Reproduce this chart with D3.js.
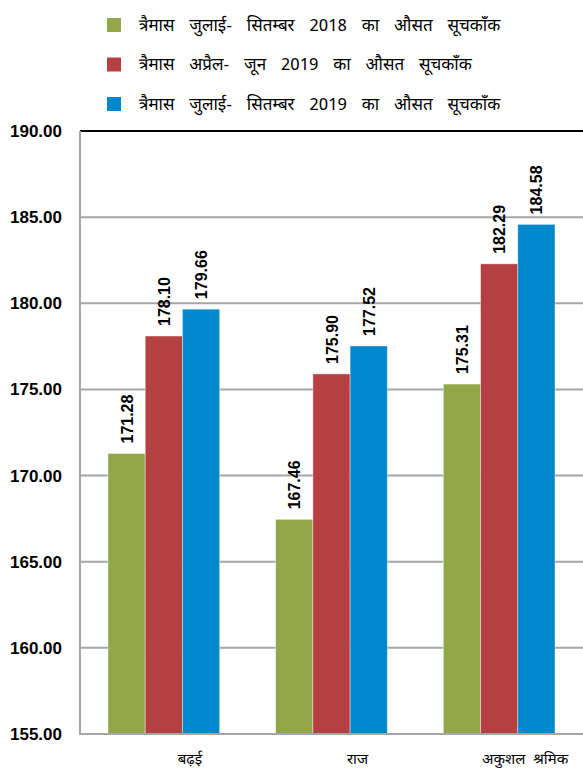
<!DOCTYPE html>
<html>
<head>
<meta charset="utf-8">
<script src="https://cdn.jsdelivr.net/npm/d3@7"></script>
<style>
  body { margin: 0; background: #fff; }
  svg { display: block; }
</style>
</head>
<body>
<div id="chart"></div>
<script>
// categories and series
var categories = ["बढ़ई", "राज", "अकुशल  श्रमिक"];
var seriesNames = [
	"त्रैमास  जुलाई-  सितम्बर  2018  का  औसत  सूचकाँक",
	"त्रैमास  अप्रैल-  जून  2019  का  औसत  सूचकाँक",
	"त्रैमास  जुलाई-  सितम्बर  2019  का  औसत  सूचकाँक"
];
var julSep2018 = [171.28, 167.46, 175.31];
var aprJun2019 = [178.10, 175.90, 182.29];
var julSep2019 = [179.66, 177.52, 184.58];
var yTicks = [155, 160, 165, 170, 175, 180, 185, 190];
var colors = ["#94a64a", "#b44042", "#0088cc"];

var series = [julSep2018, aprJun2019, julSep2019];

var width = 583,
	height = 771,
	plotLeft = 80,
	plotRight = 583,
	plotTop = 131,
	plotBottom = 734;

var svg = d3.select("#chart")
	.append("svg")
	.attr("width", width)
	.attr("height", height);

var devFont = "'Noto Sans Devanagari', 'Lohit Devanagari', 'Noto Sans', sans-serif";
var numFont = "'Liberation Sans', Arial, sans-serif";

// scales
var x0 = d3.scaleBand()
	.domain(categories)
	.range([plotLeft, plotRight])
	.paddingInner(0.334)
	.paddingOuter(0.167);

var x1 = d3.scaleBand()
	.domain([0, 1, 2])
	.range([0, x0.bandwidth()]);

var y = d3.scaleLinear()
	.domain([155, 190])
	.range([plotBottom, plotTop]);

// gridlines
svg.selectAll(".grid")
	.data(yTicks.slice(1))
	.enter().append("line")
	.attr("class", "grid")
	.attr("x1", plotLeft)
	.attr("x2", plotRight)
	.attr("y1", function(d) { return y(d); })
	.attr("y2", function(d) { return y(d); })
	.style("stroke", function(d) { return d === 190 ? "#000" : "#a6a6a6"; })
	.style("stroke-width", 2);

// y axis labels
var yAxis = d3.axisLeft(y)
	.tickValues(yTicks)
	.tickSize(0)
	.tickPadding(18)
	.tickFormat(d3.format(".2f"));

var yg = svg.append("g")
	.attr("transform", "translate(" + plotLeft + ",0)")
	.call(yAxis);
yg.select(".domain").remove();
yg.selectAll("text")
	.style("font-family", numFont)
	.style("font-weight", "bold")
	.style("font-size", "17px")
	.style("fill", "#000");

// bars
var groups = svg.selectAll(".group")
	.data(categories)
	.enter().append("g")
	.attr("class", "group")
	.attr("transform", function(d) { return "translate(" + x0(d) + ",0)"; });

groups.selectAll("rect")
	.data(function(d, i) { return series.map(function(s, j) { return { s: j, v: s[i] }; }); })
	.enter().append("rect")
	.attr("x", function(d) { return x1(d.s); })
	.attr("width", x1.bandwidth())
	.attr("y", function(d) { return y(d.v); })
	.attr("height", function(d) { return plotBottom - y(d.v); })
	.style("fill", function(d) { return colors[d.s]; })
	.style("stroke", "rgba(255,255,255,0.5)")
	.style("stroke-width", 0.8);

// value labels
groups.selectAll(".val")
	.data(function(d, i) { return series.map(function(s, j) { return { s: j, v: s[i] }; }); })
	.enter().append("text")
	.attr("class", "val")
	.attr("transform", function(d) {
		return "translate(" + (x1(d.s) + x1.bandwidth() / 2 + 6) + "," + (y(d.v) - 10) + ") rotate(-90)";
	})
	.style("font-family", numFont)
	.style("font-weight", "bold")
	.style("font-size", "16px")
	.style("fill", "#000")
	.text(function(d) { return d.v.toFixed(2); });

// x axis labels
var xAxis = d3.axisBottom(x0).tickSize(0).tickPadding(19);
var xg = svg.append("g")
	.attr("transform", "translate(0," + plotBottom + ")")
	.call(xAxis);
xg.select(".domain").remove();
xg.selectAll("text")
	.attr("dx", 26)
	.style("font-family", devFont)
	.style("font-size", "15px")
	.style("white-space", "pre")
	.style("fill", "#000");

// axis lines
svg.append("line")
	.attr("x1", plotLeft).attr("x2", plotLeft)
	.attr("y1", plotTop).attr("y2", plotBottom + 1)
	.style("stroke", "#a6a6a6")
	.style("stroke-width", 2);
svg.append("line")
	.attr("x1", plotLeft - 1).attr("x2", plotRight)
	.attr("y1", plotBottom).attr("y2", plotBottom)
	.style("stroke", "#a6a6a6")
	.style("stroke-width", 2);

// legend
var legend = svg.selectAll(".legend")
	.data(seriesNames)
	.enter().append("g")
	.attr("class", "legend")
	.attr("transform", function(d, i) { return "translate(107," + (25 + i * 39.5) + ")"; });

legend.append("rect")
	.attr("x", 0)
	.attr("y", -7)
	.attr("width", 14)
	.attr("height", 14)
	.style("fill", function(d, i) { return colors[i]; });

legend.append("text")
	.attr("x", 32)
	.attr("dy", "0.35em")
	.style("font-family", devFont)
	.style("font-size", "17px")
	.style("word-spacing", "3px")
	.style("white-space", "pre")
	.style("fill", "#000")
	.text(function(d) { return d; });
</script>
</body>
</html>
